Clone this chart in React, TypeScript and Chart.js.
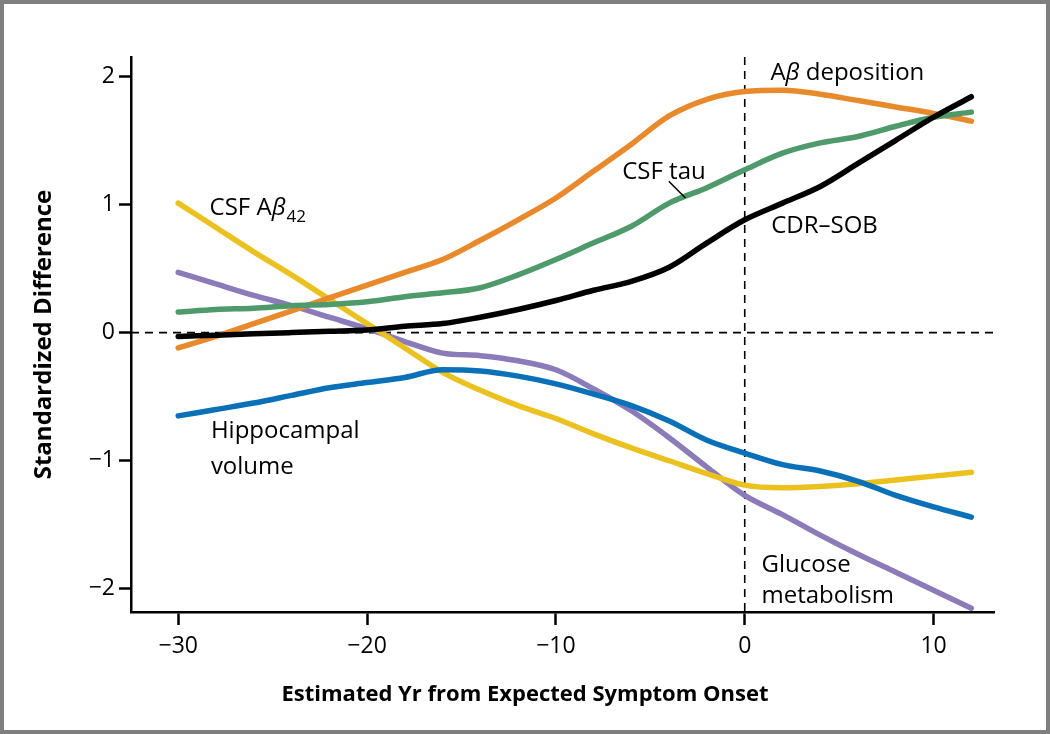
import React, { useEffect, useRef } from "react";
import { Chart, registerables } from "chart.js";

Chart.register(...registerables);

// ---- data ----
const years = [-30, -28, -26, -24, -22, -20, -18, -16, -14, -12, -10, -8, -6, -4, -2, 0, 2, 4, 6, 8, 10, 12];
const abDeposition = [-0.12, -0.03, 0.07, 0.17, 0.27, 0.37, 0.47, 0.57, 0.72, 0.88, 1.05, 1.26, 1.47, 1.69, 1.82, 1.88, 1.89, 1.86, 1.81, 1.76, 1.71, 1.65];
const csfTau = [0.16, 0.18, 0.19, 0.21, 0.22, 0.24, 0.28, 0.31, 0.35, 0.45, 0.57, 0.7, 0.83, 1.01, 1.13, 1.27, 1.4, 1.48, 1.53, 1.61, 1.68, 1.72];
const cdrSob = [-0.03, -0.02, -0.01, 0.0, 0.01, 0.02, 0.05, 0.07, 0.12, 0.18, 0.25, 0.33, 0.4, 0.51, 0.7, 0.88, 1.01, 1.14, 1.32, 1.5, 1.68, 1.84];
const csfAb42 = [1.01, 0.82, 0.63, 0.45, 0.26, 0.07, -0.12, -0.31, -0.45, -0.57, -0.67, -0.79, -0.9, -1.0, -1.1, -1.19, -1.21, -1.2, -1.18, -1.15, -1.12, -1.09];
const hippocampalVolume = [-0.65, -0.6, -0.55, -0.49, -0.43, -0.39, -0.35, -0.29, -0.3, -0.34, -0.4, -0.48, -0.57, -0.69, -0.84, -0.94, -1.03, -1.08, -1.16, -1.27, -1.36, -1.44];
const glucoseMetabolism = [0.47, 0.38, 0.29, 0.21, 0.12, 0.03, -0.07, -0.16, -0.18, -0.22, -0.29, -0.44, -0.61, -0.82, -1.05, -1.27, -1.42, -1.58, -1.73, -1.87, -2.01, -2.15];

const xTicks = [-30, -20, -10, 0, 10];
const yTicks = [-2, -1, 0, 1, 2];
const xTitle = "Estimated Yr from Expected Symptom Onset";
const yTitle = "Standardized Difference";

type Run = { t: string; italic?: boolean; sub?: boolean };
const labelTexts: Run[][] = [
  [{ t: "A" }, { t: "β", italic: true }, { t: " deposition" }],
  [{ t: "CSF tau" }],
  [{ t: "CDR–SOB" }],
  [{ t: "CSF A" }, { t: "β", italic: true }, { t: "42", sub: true }],
  [{ t: "Hippocampal" }],
  [{ t: "volume" }],
  [{ t: "Glucose" }],
  [{ t: "metabolism" }],
];
// anchor (left, baseline) of each label in data units
const labelX = [1.36, -6.49, 1.4, -28.34, -28.27, -28.27, 0.89, 0.89];
const labelY = [1.97, 1.2, 0.78, 0.92, -0.82, -1.1, -1.87, -2.11];
const leaderX = [-4.02, -3.14];
const leaderY = [1.18, 1.05];

const FONT = "'Open Sans', 'Noto Sans', sans-serif";

const toPts = (vals: number[]) => vals.map((v, i) => ({ x: years[i], y: v }));
const minusFmt = (v: number) => (v < 0 ? "\u2212" + Math.abs(v) : String(v));

const overlay = {
  id: "overlay",
  beforeDatasetsDraw(chart: any) {
    const { ctx, chartArea } = chart;
    const xs = chart.scales.x;
    const ys = chart.scales.y;
    const x0 = xs.getPixelForValue(0);
    const y0 = ys.getPixelForValue(0);
    ctx.save();
    ctx.strokeStyle = "#000";
    ctx.lineWidth = 1.6;
    ctx.setLineDash([8, 6]);
    ctx.beginPath();
    ctx.moveTo(chartArea.left, y0);
    ctx.lineTo(chartArea.right, y0);
    ctx.stroke();
    ctx.beginPath();
    ctx.moveTo(x0, chartArea.top);
    ctx.lineTo(x0, chartArea.bottom);
    ctx.stroke();
    ctx.restore();
  },
  afterDraw(chart: any) {
    const { ctx, chartArea } = chart;
    const xs = chart.scales.x;
    const ys = chart.scales.y;
    ctx.save();
    ctx.fillStyle = "#000";
    ctx.textBaseline = "alphabetic";
    ctx.textAlign = "left";
    labelTexts.forEach((runs, i) => {
      let px = xs.getPixelForValue(labelX[i]);
      const py = ys.getPixelForValue(labelY[i]);
      runs.forEach((r) => {
        const size = r.sub ? 17 : 24;
        ctx.font = `${r.italic ? "italic " : ""}${size}px ${FONT}`;
        ctx.fillText(r.t, px + (r.sub ? 1 : 0), py + (r.sub ? 7 : 0));
        px += ctx.measureText(r.t).width + (r.sub ? 1 : 0);
      });
    });
    // leader line for CSF tau
    ctx.strokeStyle = "#000";
    ctx.lineWidth = 1.5;
    ctx.beginPath();
    ctx.moveTo(xs.getPixelForValue(leaderX[0]), ys.getPixelForValue(leaderY[0]));
    ctx.lineTo(xs.getPixelForValue(leaderX[1]), ys.getPixelForValue(leaderY[1]));
    ctx.stroke();
    // axis titles
    ctx.font = `bold 22px ${FONT}`;
    ctx.textAlign = "center";
    ctx.fillText(xTitle, chart.width / 2, chartArea.bottom + 89);
    ctx.font = `bold 24px ${FONT}`;
    ctx.translate(chartArea.left - 80, (chartArea.top + chartArea.bottom) / 2);
    ctx.rotate(-Math.PI / 2);
    ctx.fillText(yTitle, 0, 0);
    ctx.restore();
  },
};

export default function App() {
  const ref = useRef<HTMLCanvasElement | null>(null);
  useEffect(() => {
    if (!ref.current) return;
    const line = (data: number[], color: string) => ({
      data: toPts(data),
      borderColor: color,
      backgroundColor: color,
      borderWidth: 5.5,
      pointRadius: 0,
      fill: false,
      cubicInterpolationMode: "monotone" as const,
      borderCapStyle: "round" as const,
      borderJoinStyle: "round" as const,
    });
    const chart = new Chart(ref.current, {
      type: "line",
      data: {
        datasets: [
          line(cdrSob, "#000000"),
          line(csfTau, "#4E9A6A"),
          line(abDeposition, "#E8892C"),
          line(hippocampalVolume, "#0A70B8"),
          line(csfAb42, "#EBC11F"),
          line(glucoseMetabolism, "#8B7BB9"),
        ],
      },
      options: {
        responsive: false,
        animation: false,
        layout: { padding: { left: 0, top: 53, right: 52, bottom: 0 } },
        plugins: { legend: { display: false }, tooltip: { enabled: false }, title: { display: false } },
        scales: {
          x: {
            type: "linear",
            min: -32.5,
            max: 13.2,
            afterFit: (s: any) => {
              s.height = 118;
            },
            afterBuildTicks: (s: any) => {
              s.ticks = xTicks.map((v) => ({ value: v }));
            },
            grid: { drawOnChartArea: false, drawTicks: true, tickLength: 13, tickWidth: 2.5, tickColor: "#000" },
            border: { display: true, color: "#000", width: 2.5 },
            ticks: {
              color: "#000",
              padding: 8,
              font: { family: FONT, size: 23 },
              callback: (v: any) => minusFmt(Number(v)),
            },
          },
          y: {
            type: "linear",
            min: -2.18,
            max: 2.15,
            afterFit: (s: any) => {
              s.width = 127;
            },
            afterBuildTicks: (s: any) => {
              s.ticks = yTicks.map((v) => ({ value: v }));
            },
            grid: { drawOnChartArea: false, drawTicks: true, tickLength: 12, tickWidth: 2.5, tickColor: "#000" },
            border: { display: true, color: "#000", width: 2.5 },
            ticks: {
              color: "#000",
              padding: 4,
              font: { family: FONT, size: 23 },
              callback: (v: any) => minusFmt(Number(v)),
            },
          },
        },
      },
      plugins: [overlay],
    });
    return () => chart.destroy();
  }, []);

  return (
    <div
      style={{
        position: "absolute",
        left: 0,
        top: 0,
        width: 1050,
        height: 734,
        boxSizing: "border-box",
        border: "4px solid #7f7f7f",
        background: "#fff",
      }}
    >
      <canvas ref={ref} width={1042} height={726} style={{ display: "block", width: 1042, height: 726 }} />
    </div>
  );
}
